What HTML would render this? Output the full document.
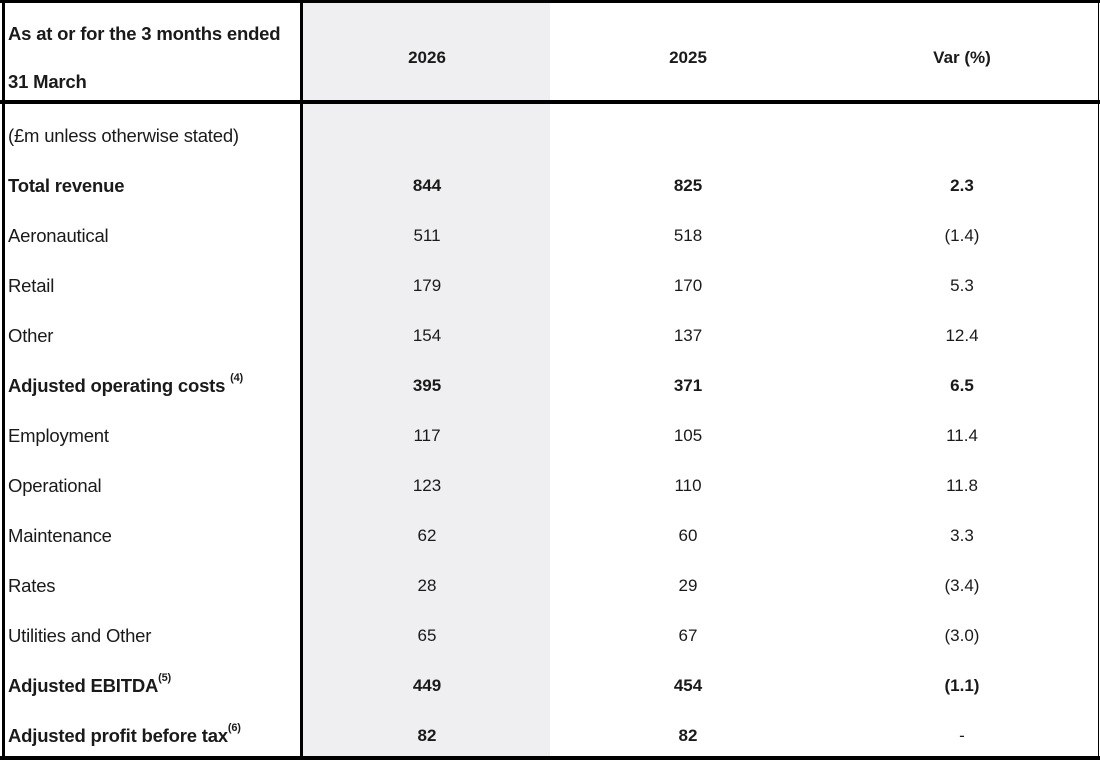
<!DOCTYPE html>
<html><head><meta charset="utf-8"><style>
body{margin:0;width:1100px;height:760px;position:relative;background:#fff;font-family:"Liberation Sans",Arial,sans-serif;color:#1a1a1a;overflow:hidden}
div{position:absolute}
.l{left:8px;font-size:18.5px;line-height:20px;letter-spacing:-0.2px}
.c{width:200px;text-align:center;font-size:17px;line-height:20px}
.b{font-weight:bold}
sup{font-size:11px;position:relative;top:-3px;vertical-align:top;line-height:10px}
</style></head><body>
<div style="left:303px;top:0;width:247px;height:760px;background:#efeff1"></div>
<div style="left:0;top:0;width:1100px;height:3px;background:#000"></div>
<div style="left:2px;top:0;width:3px;height:760px;background:#000"></div>
<div style="left:1098px;top:0;width:1px;height:760px;background:#000"></div>
<div style="left:300px;top:0;width:3px;height:760px;background:#000"></div>
<div style="left:0;top:100px;width:1100px;height:4px;background:#000"></div>
<div style="left:0;top:756px;width:1100px;height:4px;background:#000"></div>
<div class="l b" style="top:24px">As at or for the 3 months ended</div>
<div class="l b" style="top:72px">31 March</div>
<div class="c b" style="left:327px;top:48px">2026</div>
<div class="c b" style="left:588px;top:48px">2025</div>
<div class="c b" style="left:862px;top:48px">Var (%)</div>
<div class="l" style="top:126px">(£m unless otherwise stated)</div>

<div class="l b" style="top:176px">Total revenue</div>
<div class="c b" style="left:327px;top:176px">844</div><div class="c b" style="left:588px;top:176px">825</div><div class="c b" style="left:862px;top:176px">2.3</div>
<div class="l" style="top:226px">Aeronautical</div>
<div class="c" style="left:327px;top:226px">511</div><div class="c" style="left:588px;top:226px">518</div><div class="c" style="left:862px;top:226px">(1.4)</div>
<div class="l" style="top:276px">Retail</div>
<div class="c" style="left:327px;top:276px">179</div><div class="c" style="left:588px;top:276px">170</div><div class="c" style="left:862px;top:276px">5.3</div>
<div class="l" style="top:326px">Other</div>
<div class="c" style="left:327px;top:326px">154</div><div class="c" style="left:588px;top:326px">137</div><div class="c" style="left:862px;top:326px">12.4</div>
<div class="l b" style="top:376px">Adjusted operating costs <sup>(4)</sup></div>
<div class="c b" style="left:327px;top:376px">395</div><div class="c b" style="left:588px;top:376px">371</div><div class="c b" style="left:862px;top:376px">6.5</div>
<div class="l" style="top:426px">Employment</div>
<div class="c" style="left:327px;top:426px">117</div><div class="c" style="left:588px;top:426px">105</div><div class="c" style="left:862px;top:426px">11.4</div>
<div class="l" style="top:476px">Operational</div>
<div class="c" style="left:327px;top:476px">123</div><div class="c" style="left:588px;top:476px">110</div><div class="c" style="left:862px;top:476px">11.8</div>
<div class="l" style="top:526px">Maintenance</div>
<div class="c" style="left:327px;top:526px">62</div><div class="c" style="left:588px;top:526px">60</div><div class="c" style="left:862px;top:526px">3.3</div>
<div class="l" style="top:576px">Rates</div>
<div class="c" style="left:327px;top:576px">28</div><div class="c" style="left:588px;top:576px">29</div><div class="c" style="left:862px;top:576px">(3.4)</div>
<div class="l" style="top:626px">Utilities and Other</div>
<div class="c" style="left:327px;top:626px">65</div><div class="c" style="left:588px;top:626px">67</div><div class="c" style="left:862px;top:626px">(3.0)</div>
<div class="l b" style="top:676px">Adjusted EBITDA<sup>(5)</sup></div>
<div class="c b" style="left:327px;top:676px">449</div><div class="c b" style="left:588px;top:676px">454</div><div class="c b" style="left:862px;top:676px">(1.1)</div>
<div class="l b" style="top:726px">Adjusted profit before tax<sup>(6)</sup></div>
<div class="c b" style="left:327px;top:726px">82</div><div class="c b" style="left:588px;top:726px">82</div><div class="c" style="left:862px;top:726px">-</div>
</body></html>
